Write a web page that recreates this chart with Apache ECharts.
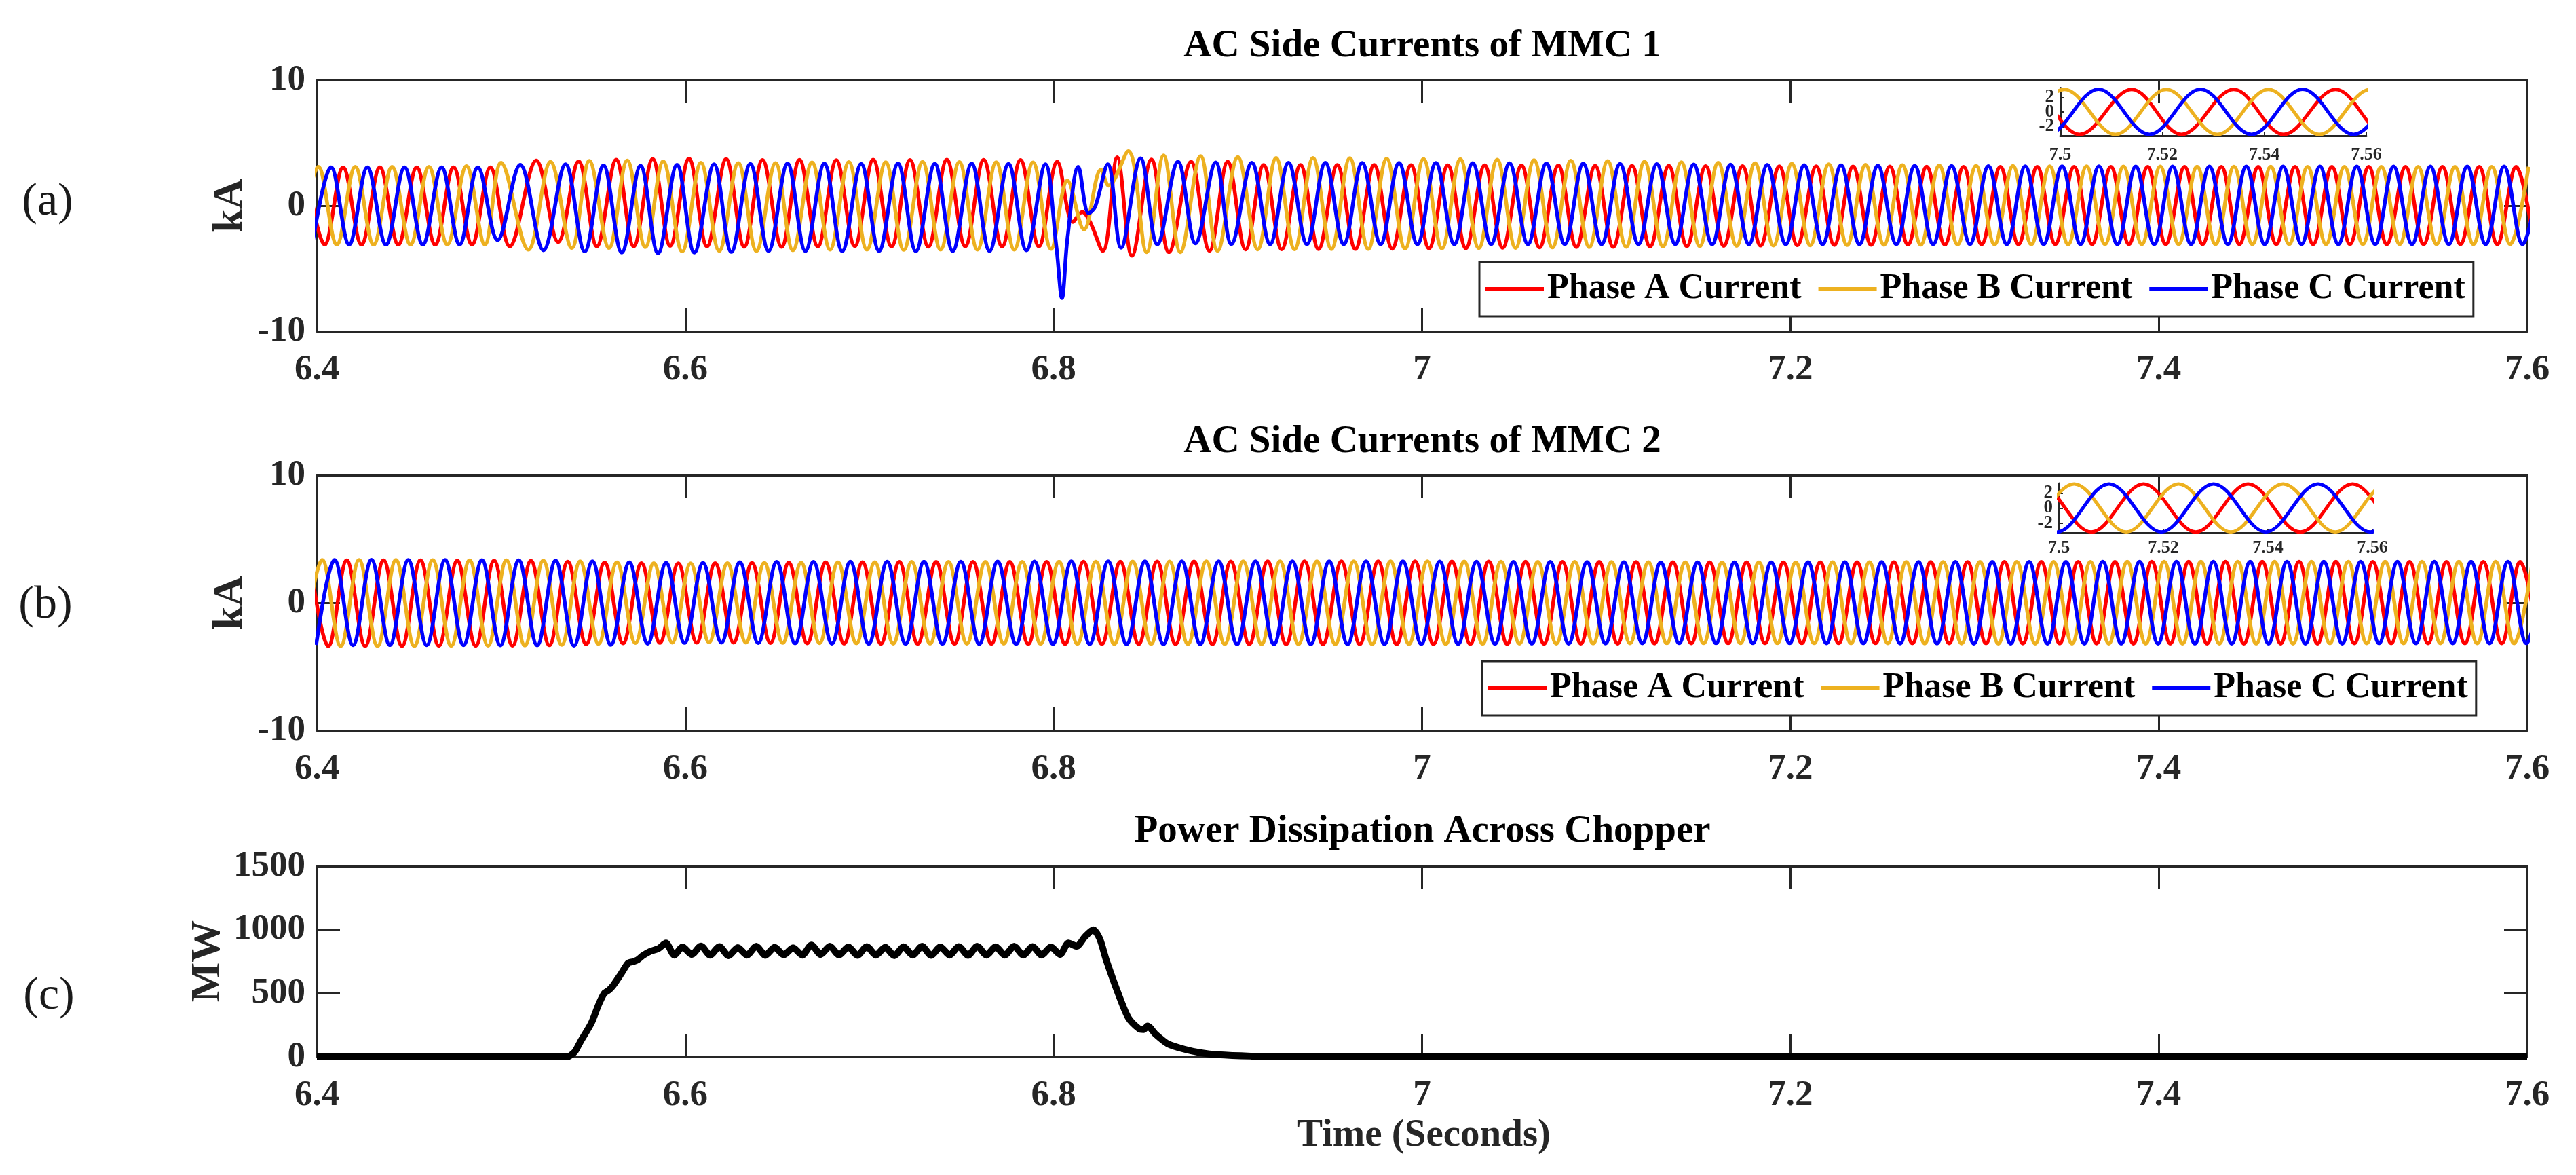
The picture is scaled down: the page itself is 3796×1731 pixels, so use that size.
<!DOCTYPE html>
<html>
<head>
<meta charset="utf-8">
<script src="https://cdn.jsdelivr.net/npm/echarts/dist/echarts.min.js"></script>
<style>
html,body{margin:0;padding:0;background:#fff;}
#main{width:3796px;height:1731px;}
</style>
</head>
<body>
<div id="main"></div>
<script>
// ---------------- DATA ----------------
const xTicksMain = [6.4, 6.6, 6.8, 7.0, 7.2, 7.4, 7.6];
const insetTicks = [7.5, 7.52, 7.54, 7.56];
const insetYTicksOuter = [-2, 2];
const insetYTicksMid = [0];
const legendNames = ['Phase A Current', 'Phase B Current', 'Phase C Current'];

// MMC 1 phase currents (kA): [time s, value] at peaks / troughs / turning points
const mmc1A = [[6.3942,3.05],
[6.4042,-3.1],[6.4142,3.05],[6.4242,-3.1],[6.4342,3.05],[6.4442,-3.1],[6.4542,3.05],[6.4642,-3.1],[6.4742,3.05],[6.4842,-3.1],[6.4942,3.05],
[6.5047,-3.24],[6.5191,3.6],[6.531,-2.9],[6.5421,3.53],[6.552,-3.24],[6.5625,3.66],[6.572,-3.24],[6.5823,3.71],[6.5918,-3.2],[6.602,3.75],[6.6118,-3.24],[6.6222,3.71],[6.632,-3.28],[6.6419,3.64],[6.6523,-3.28],
[6.662,3.65],[6.672,-3.25],[6.682,3.62],[6.692,-3.22],[6.702,3.66],[6.712,-3.25],[6.722,3.64],[6.732,-3.27],[6.742,3.66],[6.752,-3.24],[6.762,3.65],[6.772,-3.25],[6.782,3.64],[6.792,-3.25],[6.802,3.5],
[6.8105,-1.3],[6.8155,-0.5],[6.8195,-1.2],[6.8267,-3.6],[6.8345,3.85],[6.8425,-3.98],[6.8531,3.68],[6.8626,-3.7],[6.8746,3.5],[6.8846,-3.6],[6.8945,3.5],[6.9042,-3.48],[6.914,3.25],
[6.9238,-3.47],[6.934,3.25],[6.9438,-3.46],[6.954,3.24],[6.9638,-3.45],[6.974,3.25],[6.9838,-3.43],[6.994,3.23],[7.0038,-3.4],[7.014,3.22],[7.0238,-3.38],[7.034,3.22],[7.0438,-3.35],[7.054,3.2],[7.0638,-3.33],[7.074,3.2],[7.0838,-3.3],[7.094,3.18],[7.1038,-3.28],[7.114,3.18],[7.1238,-3.25],[7.134,3.17],[7.1438,-3.22],[7.154,3.15],[7.1638,-3.2],[7.174,3.15],[7.1838,-3.18],[7.194,3.14],[7.2038,-3.15],[7.214,3.13],[7.2238,-3.13],[7.234,3.12],[7.2438,-3.12],[7.254,3.12],[7.2638,-3.1],[7.274,3.11],[7.2838,-3.1],[7.294,3.1],[7.3038,-3.08],[7.314,3.1],[7.3238,-3.08],[7.334,3.1],[7.3438,-3.07],[7.354,3.1],[7.3638,-3.07],[7.374,3.1],[7.3838,-3.07],[7.394,3.1],[7.4038,-3.07],[7.414,3.1],[7.4238,-3.07],[7.434,3.1],[7.4438,-3.07],[7.454,3.1],[7.4638,-3.07],[7.474,3.1],[7.4838,-3.07],[7.494,3.1],[7.5038,-3.07],[7.514,3.1],[7.5238,-3.07],[7.534,3.1],[7.5438,-3.07],[7.554,3.1],[7.5638,-3.07],[7.574,3.1],[7.5838,-3.07],[7.594,3.1],[7.6038,-3.07]];

const mmc1B = [[6.3908,-3.1],[6.4008,3.1],[6.4108,-3.1],[6.4208,3.1],[6.4308,-3.1],[6.4408,3.1],[6.4508,-3.1],[6.4608,3.1],[6.4708,-3.1],[6.4812,3.15],[6.4912,-3.1],
[6.5,3.42],[6.5148,-3.5],[6.5268,3.48],[6.5384,-3.37],[6.5479,3.57],[6.5586,-3.37],[6.5685,3.6],[6.5783,-3.3],[6.588,3.53],[6.5983,-3.64],[6.6085,3.42],[6.6184,-3.6],[6.6288,3.39],[6.6386,-3.6],[6.649,3.39],[6.6584,-3.55],
[6.6688,3.45],[6.6786,-3.5],[6.6888,3.47],[6.6986,-3.5],[6.7088,3.46],[6.7186,-3.52],[6.7288,3.48],[6.7386,-3.5],[6.7488,3.47],[6.7586,-3.5],[6.7688,3.46],[6.7786,-3.5],[6.7888,3.45],[6.7986,-3.45],
[6.8075,2.0],[6.8165,-1.9],[6.8257,2.86],[6.8299,1.6],[6.8405,4.34],[6.8505,-3.7],[6.8597,4.0],[6.8688,-3.7],[6.8798,3.95],[6.889,-3.6],[6.9,3.87],[6.9108,-3.48],
[6.9208,3.8],[6.9308,-3.47],[6.9408,3.8],[6.9508,-3.46],[6.9608,3.78],[6.9708,-3.45],[6.9808,3.75],[6.9908,-3.43],[7.0008,3.72],[7.0108,-3.41],[7.0208,3.7],[7.0308,-3.38],[7.0408,3.66],[7.0508,-3.36],[7.0608,3.62],[7.0708,-3.33],[7.0808,3.58],[7.0908,-3.3],[7.1008,3.55],[7.1108,-3.28],[7.1208,3.5],[7.1308,-3.25],[7.1408,3.46],[7.1508,-3.22],[7.1608,3.42],[7.1708,-3.2],[7.1808,3.38],[7.1908,-3.18],[7.2008,3.34],[7.2108,-3.16],[7.2208,3.3],[7.2308,-3.14],[7.2408,3.26],[7.2508,-3.12],[7.2608,3.23],[7.2708,-3.11],[7.2808,3.2],[7.2908,-3.1],[7.3008,3.18],[7.3108,-3.09],[7.3208,3.16],[7.3308,-3.08],[7.3408,3.14],[7.3508,-3.08],[7.3608,3.13],[7.3708,-3.07],[7.3808,3.12],[7.3908,-3.07],[7.4008,3.12],[7.4108,-3.07],[7.4208,3.11],[7.4308,-3.07],[7.4408,3.11],[7.4508,-3.07],[7.4608,3.11],[7.4708,-3.07],[7.4808,3.1],[7.4908,-3.07],[7.5008,3.1],[7.5108,-3.07],[7.5208,3.1],[7.5308,-3.07],[7.5408,3.1],[7.5508,-3.07],[7.5608,3.1],[7.5708,-3.07],[7.5808,3.1],[7.5908,-3.07],[7.6008,3.1]];

const mmc1C = [[6.3975,-3.1],[6.4077,3.05],[6.4175,-3.1],[6.4274,3.05],[6.4375,-3.1],[6.4476,3.05],[6.4575,-3.1],[6.4677,3.05],[6.4775,-3.1],[6.4874,3.05],[6.4981,-2.74],
[6.5104,3.26],[6.523,-3.55],[6.535,3.3],[6.5454,-3.64],[6.5556,3.2],[6.5655,-3.73],[6.5757,3.17],[6.5852,-3.78],[6.5955,3.26],[6.6049,-3.73],[6.6156,3.3],[6.625,-3.68],[6.6353,3.33],[6.6452,-3.6],[6.6555,3.35],
[6.6652,-3.6],[6.6755,3.35],[6.6852,-3.62],[6.6955,3.33],[6.7052,-3.6],[6.7155,3.35],[6.7252,-3.62],[6.7355,3.34],[6.7452,-3.6],[6.7555,3.35],[6.7652,-3.6],[6.7755,3.33],[6.7852,-3.55],[6.7955,3.3],
[6.8015,-3.3],[6.8045,-7.35],[6.8075,-2.6],[6.8134,3.1],[6.819,-0.6],[6.8225,-0.1],[6.8294,3.3],[6.8366,-3.35],[6.8472,3.77],[6.8563,-3.08],[6.8675,3.5],[6.877,-3.0],[6.888,3.45],[6.8965,-3.06],[6.9076,3.42],
[6.9175,-3.06],[6.9275,3.42],[6.9375,-3.06],[6.9475,3.42],[6.9575,-3.06],[6.9675,3.41],[6.9775,-3.06],[6.9875,3.4],[6.9975,-3.06],[7.0075,3.4],[7.0175,-3.06],[7.0275,3.39],[7.0375,-3.06],[7.0475,3.38],[7.0575,-3.06],[7.0675,3.37],[7.0775,-3.06],[7.0875,3.35],[7.0975,-3.06],[7.1075,3.33],[7.1175,-3.06],[7.1275,3.31],[7.1375,-3.06],[7.1475,3.29],[7.1575,-3.07],[7.1675,3.27],[7.1775,-3.07],[7.1875,3.25],[7.1975,-3.07],[7.2075,3.23],[7.2175,-3.07],[7.2275,3.21],[7.2375,-3.07],[7.2475,3.19],[7.2575,-3.07],[7.2675,3.17],[7.2775,-3.07],[7.2875,3.16],[7.2975,-3.07],[7.3075,3.15],[7.3175,-3.07],[7.3275,3.14],[7.3375,-3.07],[7.3475,3.13],[7.3575,-3.07],[7.3675,3.13],[7.3775,-3.07],[7.3875,3.12],[7.3975,-3.07],[7.4075,3.12],[7.4175,-3.07],[7.4275,3.12],[7.4375,-3.07],[7.4475,3.12],[7.4575,-3.07],[7.4675,3.12],[7.4775,-3.07],[7.4875,3.12],[7.4975,-3.07],[7.5075,3.12],[7.5175,-3.07],[7.5275,3.12],[7.5375,-3.07],[7.5475,3.12],[7.5575,-3.07],[7.5675,3.12],[7.5775,-3.07],[7.5875,3.12],[7.5975,-3.07],[7.6075,3.12]];

// MMC 2 phase currents (kA)
const mmc2A = [[6.3962,3.3],[6.4062,-3.4],[6.4162,3.32],[6.4262,-3.4],[6.4362,3.33],[6.4462,-3.4],[6.4562,3.32],[6.4662,-3.38],[6.4762,3.3],[6.4862,-3.38],[6.4962,3.3],[6.5062,-3.36],[6.5162,3.28],[6.5262,-3.33],[6.5362,3.22],[6.5462,-3.25],[6.5562,3.15],[6.5662,-3.18],[6.5762,3.1],[6.5862,-3.14],[6.5962,3.08],[6.6062,-3.12],[6.6162,3.1],[6.6262,-3.12],[6.6362,3.12],[6.6462,-3.15],[6.6562,3.14],[6.6662,-3.18],[6.6762,3.16],[6.6862,-3.2],[6.6962,3.18],[6.7062,-3.22],[6.7162,3.2],[6.7262,-3.22],[6.7362,3.2],[6.7462,-3.22],[6.7562,3.2],[6.7662,-3.22],[6.7762,3.21],[6.7862,-3.23],[6.7962,3.21],[6.8062,-3.23],[6.8162,3.22],[6.8262,-3.24],[6.8362,3.22],[6.8462,-3.24],[6.8562,3.23],[6.8662,-3.24],[6.8762,3.23],[6.8862,-3.25],[6.8962,3.23],[6.9062,-3.25],[6.9162,3.24],[6.9262,-3.25],[6.9362,3.24],[6.9462,-3.25],[6.9562,3.24],[6.9662,-3.25],[6.9762,3.24],[6.9862,-3.25],[6.9962,3.24],[7.0062,-3.24],[7.0162,3.23],[7.0262,-3.24],[7.0362,3.23],[7.0462,-3.23],[7.0562,3.22],[7.0662,-3.22],[7.0762,3.21],[7.0862,-3.21],[7.0962,3.2],[7.1062,-3.2],[7.1162,3.19],[7.1262,-3.19],[7.1362,3.18],[7.1462,-3.18],[7.1562,3.17],[7.1662,-3.17],[7.1762,3.17],[7.1862,-3.17],[7.1962,3.17],[7.2062,-3.17],[7.2162,3.17],[7.2262,-3.17],[7.2362,3.18],[7.2462,-3.17],[7.2562,3.18],[7.2662,-3.18],[7.2762,3.19],[7.2862,-3.18],[7.2962,3.19],[7.3062,-3.18],[7.3162,3.2],[7.3262,-3.19],[7.3362,3.2],[7.3462,-3.19],[7.3562,3.21],[7.3662,-3.19],[7.3762,3.21],[7.3862,-3.2],[7.3962,3.22],[7.4062,-3.2],[7.4162,3.22],[7.4262,-3.2],[7.4362,3.22],[7.4462,-3.2],[7.4562,3.22],[7.4662,-3.2],[7.4762,3.22],[7.4862,-3.2],[7.4962,3.22],[7.5062,-3.18],[7.5162,3.2],[7.5262,-3.18],[7.5362,3.2],[7.5462,-3.18],[7.5562,3.2],[7.5662,-3.18],[7.5762,3.2],[7.5862,-3.18],[7.5962,3.2],[7.6062,-3.18]];

const mmc2B = [[6.3929,-3.4],[6.4029,3.35],[6.4129,-3.4],[6.4229,3.35],[6.4329,-3.4],[6.4429,3.35],[6.4529,-3.4],[6.4629,3.34],[6.4729,-3.38],[6.4829,3.33],[6.4929,-3.37],[6.5029,3.32],[6.5129,-3.35],[6.5229,3.3],[6.5329,-3.3],[6.5429,3.24],[6.5529,-3.22],[6.5629,3.16],[6.5729,-3.15],[6.5829,3.1],[6.5929,-3.12],[6.6029,3.08],[6.6129,-3.1],[6.6229,3.1],[6.6329,-3.12],[6.6429,3.12],[6.6529,-3.14],[6.6629,3.14],[6.6729,-3.16],[6.6829,3.16],[6.6929,-3.18],[6.7029,3.18],[6.7129,-3.2],[6.7229,3.2],[6.7329,-3.2],[6.7429,3.2],[6.7529,-3.21],[6.7629,3.21],[6.7729,-3.21],[6.7829,3.21],[6.7929,-3.22],[6.8029,3.22],[6.8129,-3.22],[6.8229,3.22],[6.8329,-3.23],[6.8429,3.23],[6.8529,-3.23],[6.8629,3.23],[6.8729,-3.24],[6.8829,3.24],[6.8929,-3.24],[6.9029,3.24],[6.9129,-3.25],[6.9229,3.25],[6.9329,-3.25],[6.9429,3.25],[6.9529,-3.25],[6.9629,3.25],[6.9729,-3.25],[6.9829,3.25],[6.9929,-3.24],[7.0029,3.24],[7.0129,-3.23],[7.0229,3.23],[7.0329,-3.22],[7.0429,3.22],[7.0529,-3.21],[7.0629,3.21],[7.0729,-3.2],[7.0829,3.2],[7.0929,-3.19],[7.1029,3.19],[7.1129,-3.18],[7.1229,3.18],[7.1329,-3.17],[7.1429,3.17],[7.1529,-3.17],[7.1629,3.17],[7.1729,-3.17],[7.1829,3.17],[7.1929,-3.17],[7.2029,3.17],[7.2129,-3.17],[7.2229,3.18],[7.2329,-3.18],[7.2429,3.18],[7.2529,-3.18],[7.2629,3.19],[7.2729,-3.19],[7.2829,3.19],[7.2929,-3.19],[7.3029,3.2],[7.3129,-3.2],[7.3229,3.2],[7.3329,-3.2],[7.3429,3.21],[7.3529,-3.2],[7.3629,3.21],[7.3729,-3.2],[7.3829,3.22],[7.3929,-3.2],[7.4029,3.22],[7.4129,-3.2],[7.4229,3.22],[7.4329,-3.2],[7.4429,3.22],[7.4529,-3.2],[7.4629,3.22],[7.4729,-3.2],[7.4829,3.22],[7.4929,-3.18],[7.5029,3.22],[7.5129,-3.18],[7.5229,3.22],[7.5329,-3.18],[7.5429,3.22],[7.5529,-3.18],[7.5629,3.22],[7.5729,-3.18],[7.5829,3.22],[7.5929,-3.18],[7.6029,3.22]];

const mmc2C = [[6.3996,-3.3],[6.4096,3.35],[6.4196,-3.32],[6.4296,3.37],[6.4396,-3.32],[6.4496,3.35],[6.4596,-3.33],[6.4696,3.35],[6.4796,-3.33],[6.4896,3.34],[6.4996,-3.34],[6.5096,3.33],[6.5196,-3.34],[6.5296,3.3],[6.5396,-3.36],[6.5496,3.24],[6.5596,-3.3],[6.5696,3.16],[6.5796,-3.2],[6.5896,3.12],[6.5996,-3.14],[6.6096,3.12],[6.6196,-3.12],[6.6296,3.18],[6.6396,-3.15],[6.6496,3.2],[6.6596,-3.18],[6.6696,3.2],[6.6796,-3.2],[6.6896,3.22],[6.6996,-3.22],[6.7096,3.22],[6.7196,-3.22],[6.7296,3.22],[6.7396,-3.22],[6.7496,3.22],[6.7596,-3.23],[6.7696,3.23],[6.7796,-3.23],[6.7896,3.23],[6.7996,-3.24],[6.8096,3.24],[6.8196,-3.24],[6.8296,3.24],[6.8396,-3.25],[6.8496,3.25],[6.8596,-3.25],[6.8696,3.25],[6.8796,-3.25],[6.8896,3.25],[6.8996,-3.25],[6.9096,3.25],[6.9196,-3.25],[6.9296,3.25],[6.9396,-3.25],[6.9496,3.25],[6.9596,-3.25],[6.9696,3.25],[6.9796,-3.24],[6.9896,3.24],[6.9996,-3.24],[7.0096,3.23],[7.0196,-3.23],[7.0296,3.22],[7.0396,-3.22],[7.0496,3.21],[7.0596,-3.21],[7.0696,3.2],[7.0796,-3.2],[7.0896,3.19],[7.0996,-3.19],[7.1096,3.18],[7.1196,-3.18],[7.1296,3.17],[7.1396,-3.17],[7.1496,3.17],[7.1596,-3.17],[7.1696,3.17],[7.1796,-3.17],[7.1896,3.17],[7.1996,-3.17],[7.2096,3.18],[7.2196,-3.18],[7.2296,3.18],[7.2396,-3.18],[7.2496,3.19],[7.2596,-3.19],[7.2696,3.19],[7.2796,-3.19],[7.2896,3.2],[7.2996,-3.2],[7.3096,3.2],[7.3196,-3.2],[7.3296,3.21],[7.3396,-3.2],[7.3496,3.21],[7.3596,-3.2],[7.3696,3.22],[7.3796,-3.2],[7.3896,3.22],[7.3996,-3.2],[7.4096,3.22],[7.4196,-3.2],[7.4296,3.22],[7.4396,-3.2],[7.4496,3.22],[7.4596,-3.2],[7.4696,3.22],[7.4796,-3.2],[7.4896,3.22],[7.4996,-3.2],[7.5096,3.22],[7.5196,-3.18],[7.5296,3.22],[7.5396,-3.18],[7.5496,3.22],[7.5596,-3.18],[7.5696,3.22],[7.5796,-3.18],[7.5896,3.22],[7.5996,-3.18],[7.6096,3.22]];

// Power dissipated in the chopper (MW)
const chopperPower = [[6.4,0],[6.5,0],[6.53,0],[6.536,1],[6.54,40],[6.543,118],[6.549,266],[6.553,413],[6.556,500],[6.5585,525],[6.561,565],[6.565,650],[6.569,738],[6.5715,748],[6.574,762],[6.577,797],[6.581,830],[6.5855,852],[6.5895,895],[6.594,800],[6.5985,865],[6.6035,805],[6.6085,872],[6.6135,800],[6.6185,868],[6.6235,795],[6.6285,860],[6.6335,800],[6.6385,870],[6.6435,798],[6.6485,862],[6.6535,802],[6.6585,858],[6.6635,800],[6.6685,880],[6.6735,805],[6.6785,870],[6.6835,800],[6.6885,865],[6.6935,798],[6.6985,868],[6.7035,800],[6.7085,862],[6.7135,796],[6.7185,866],[6.7235,800],[6.7285,870],[6.7335,798],[6.7385,865],[6.7435,800],[6.7485,868],[6.7535,798],[6.7585,870],[6.7635,800],[6.7685,866],[6.7735,800],[6.7785,870],[6.7835,800],[6.7885,868],[6.7935,800],[6.7985,865],[6.8035,805],[6.808,895],[6.8125,870],[6.817,945],[6.8215,1000],[6.825,930],[6.8286,760],[6.835,501],[6.8406,307],[6.8464,221],[6.8488,215],[6.851,243],[6.8554,178],[6.862,103],[6.871,60],[6.88,32],[6.889,17],[6.907,6],[6.93,1],[6.96,0],[7.2,0],[7.6,0]];

// ---------------- CHART ----------------
const FONT = 'Liberation Serif';
const AX = '#262626';
const RED = '#FF0000', YEL = '#EDB120', BLU = '#0000FF';

const chart = echarts.init(document.getElementById('main'), null, {renderer: 'canvas', width: 3796, height: 1731});

const grids = [
  {left: 467, top: 118, width: 3257, height: 370},
  {left: 467, top: 700, width: 3257, height: 376},
  {left: 467, top: 1276, width: 3257, height: 281},
  {left: 3036, top: 129.5, width: 451, height: 71},
  {left: 3034, top: 712, width: 462, height: 73}
].map(g => Object.assign({containLabel: false, outerBoundsMode: 'none'}, g));

function fmt1(v) { return String(Math.round(v * 10) / 10); }
function fmt2(v) { return String(Math.round(v * 100) / 100); }
function fmt0(v) { return String(Math.round(v)); }

function mainX(gi, pos) {
  const bottom = pos === 'bottom';
  return {
    type: 'value', gridIndex: gi, position: pos, min: xTicksMain[0], max: xTicksMain[xTicksMain.length - 1], interval: 0.2,
    axisLine: {show: true, onZero: false, lineStyle: {color: AX, width: 3}},
    axisTick: {show: true, inside: true, length: 34, lineStyle: {color: AX, width: 3}},
    axisLabel: {show: bottom, margin: 31, formatter: fmt1, showMinLabel: true, showMaxLabel: true, color: AX, fontFamily: FONT, fontWeight: 'bold', fontSize: 53},
    splitLine: {show: false}
  };
}
function mainY(gi, pos, min, max, interval) {
  const left = pos === 'left';
  return {
    type: 'value', gridIndex: gi, position: pos, min, max, interval,
    axisLine: {show: true, onZero: false, lineStyle: {color: AX, width: 3}},
    axisTick: {show: true, inside: true, length: 34, lineStyle: {color: AX, width: 3}},
    axisLabel: {show: left, margin: 17, formatter: fmt0, showMinLabel: true, showMaxLabel: true, color: AX, fontFamily: FONT, fontWeight: 'bold', fontSize: 53},
    splitLine: {show: false}
  };
}
function insetX(gi, margin) {
  return {
    type: 'value', gridIndex: gi, position: 'bottom', min: insetTicks[0], max: insetTicks[insetTicks.length - 1],
    axisLine: {show: true, onZero: false, lineStyle: {color: AX, width: 3}},
    axisTick: {show: true, inside: true, length: 6, customValues: insetTicks, lineStyle: {color: AX, width: 2}},
    axisLabel: {show: true, margin, customValues: insetTicks, formatter: fmt2, showMinLabel: true, showMaxLabel: true, hideOverlap: false, color: AX, fontFamily: FONT, fontWeight: 'bold', fontSize: 26},
    splitLine: {show: false}
  };
}
// inset y axis is split in two (outer ticks / middle tick) so that the tightly packed labels are all kept
function insetY(gi, ticks, showLine) {
  return {
    type: 'value', gridIndex: gi, position: 'left', min: -3.3, max: 3.3,
    axisLine: {show: showLine, onZero: false, lineStyle: {color: AX, width: 3}},
    axisTick: {show: true, inside: true, length: 6, customValues: ticks, lineStyle: {color: AX, width: 2}},
    axisLabel: {show: true, margin: 9, customValues: ticks, formatter: fmt0, showMinLabel: true, showMaxLabel: true, hideOverlap: false, lineHeight: 22, color: AX, fontFamily: FONT, fontWeight: 'bold', fontSize: 27},
    splitLine: {show: false}
  };
}

const xAxis = [mainX(0, 'bottom'), mainX(0, 'top'), mainX(1, 'bottom'), mainX(1, 'top'), mainX(2, 'bottom'), mainX(2, 'top'), insetX(3, 15), insetX(4, 9)];
const yAxis = [mainY(0, 'left', -10, 10, 10), mainY(0, 'right', -10, 10, 10), mainY(1, 'left', -10, 10, 10), mainY(1, 'right', -10, 10, 10), mainY(2, 'left', 0, 1500, 500), mainY(2, 'right', 0, 1500, 500),
  insetY(3, insetYTicksOuter, true), insetY(4, insetYTicksOuter, true), insetY(3, insetYTicksMid, false), insetY(4, insetYTicksMid, false)];

function line(name, data, color, xi, yi, width, smooth) {
  return {
    type: 'line', name, data, xAxisIndex: xi, yAxisIndex: yi, color,
    showSymbol: false, symbol: 'none', smooth: smooth, clip: true, silent: true,
    lineStyle: {color, width}, itemStyle: {color}, emphasis: {disabled: true}, animation: false
  };
}

const series = [
  line(legendNames[0], mmc1A, RED, 0, 0, 5.5, 0.36),
  line(legendNames[1], mmc1B, YEL, 0, 0, 5.5, 0.36),
  line(legendNames[2], mmc1C, BLU, 0, 0, 5.5, 0.36),
  line(legendNames[0], mmc2A, RED, 2, 2, 5.5, 0.36),
  line(legendNames[1], mmc2B, YEL, 2, 2, 5.5, 0.36),
  line(legendNames[2], mmc2C, BLU, 2, 2, 5.5, 0.36),
  line('Power', chopperPower, '#000000', 4, 4, 10, 0.25),
  line(legendNames[0], mmc1A, RED, 6, 6, 5, 0.36),
  line(legendNames[1], mmc1B, YEL, 6, 6, 5, 0.36),
  line(legendNames[2], mmc1C, BLU, 6, 6, 5, 0.36),
  line(legendNames[0], mmc2A, RED, 7, 7, 5, 0.36),
  line(legendNames[1], mmc2B, YEL, 7, 7, 5, 0.36),
  line(legendNames[2], mmc2C, BLU, 7, 7, 5, 0.36)
];

function legendAt(left, top) {
  return {
    data: legendNames, left, top, orient: 'horizontal', selectedMode: false,
    icon: 'rect', itemWidth: 86, itemHeight: 6, itemGap: 25,
    padding: [14, 12, 14, 9], borderColor: AX, borderWidth: 3, backgroundColor: '#ffffff',
    textStyle: {color: '#000', fontFamily: FONT, fontWeight: 'bold', fontSize: 52}
  };
}

function txt(text, x, y, size, opts) {
  opts = opts || {};
  return {
    type: 'text', x, y, rotation: opts.rot || 0, z: 100,
    style: {
      text, fill: opts.color || '#000',
      font: (opts.weight || 'bold') + ' ' + size + 'px "' + (opts.family || FONT) + '"',
      textAlign: 'center', textVerticalAlign: 'middle', align: 'center', verticalAlign: 'middle'
    }
  };
}

const graphic = [
  txt('AC Side Currents of MMC 1', 2096, 68, 57),
  txt('AC Side Currents of MMC 2', 2096, 651, 57),
  txt('Power Dissipation Across Chopper', 2096, 1225, 57),
  txt('Time (Seconds)', 2098, 1673, 57, {color: '#262626'}),
  txt('kA', 340, 303, 62, {rot: Math.PI / 2, color: '#262626'}),
  txt('kA', 340, 888, 62, {rot: Math.PI / 2, color: '#262626'}),
  txt('MW', 307, 1416, 62, {rot: Math.PI / 2, color: '#262626'}),
  txt('(a)', 70, 298, 68, {weight: 'normal', color: '#1a1a1a'}),
  txt('(b)', 67, 892, 68, {weight: 'normal', color: '#1a1a1a'}),
  txt('(c)', 72, 1468, 68, {weight: 'normal', color: '#1a1a1a'})
];

chart.setOption({
  animation: false,
  backgroundColor: '#ffffff',
  grid: grids,
  xAxis, yAxis, series,
  legend: [legendAt(2180, 386), legendAt(2184, 974)],
  graphic
});
</script>
</body>
</html>
